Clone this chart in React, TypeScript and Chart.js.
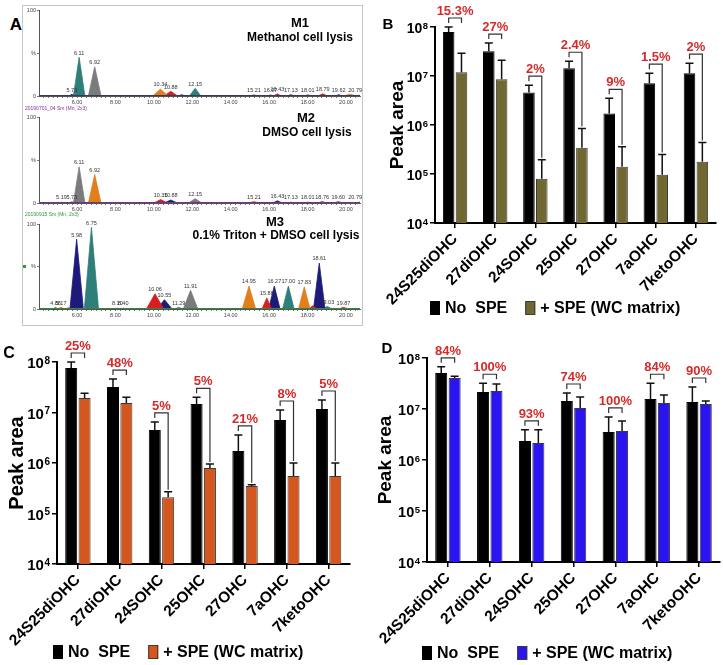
import React, { useEffect, useRef } from "react";
import { Chart, registerables } from "chart.js";

Chart.register(...registerables);

const FONT = "'Liberation Sans', Arial, Helvetica, sans-serif";

// ---------------- Bar panels (B, C, D) ----------------
const categories = ["24S25diOHC", "27diOHC", "24SOHC", "25OHC", "27OHC", "7aOHC", "7ketoOHC"];
const decadeTicks = [1e4, 1e5, 1e6, 1e7, 1e8];
const legendLabels = ["No  SPE", "+ SPE (WC matrix)"];

// Panel B (olive, WC matrix)
const bNoSpe = [7.9e7, 3.2e7, 4.6e6, 1.44e7, 1.72e6, 7.1e6, 1.14e7];
const bNoSpeSd = [2.1e7, 1.5e7, 1.9e6, 5.6e6, 1.78e6, 4.3e6, 6.9e6];
const bSpe = [1.19e7, 8.6e6, 8.0e4, 3.45e5, 1.41e5, 9.7e4, 1.78e5];
const bSpeSd = [1.71e7, 1.24e7, 1.16e5, 5.05e5, 2.19e5, 1.53e5, 2.62e5];
const bPct = ["15.3%", "27%", "2%", "2.4%", "9%", "1.5%", "2%"];
const bLongLeg = [false, false, true, true, true, true, true];

// Panel C (orange)
const cNoSpe = [7.6e7, 3.2e7, 4.5e6, 1.47e7, 1.73e6, 7.1e6, 1.17e7];
const cNoSpeSd = [2.4e7, 1.4e7, 2.0e6, 5.3e6, 1.87e6, 4.1e6, 6.0e6];
const cSpe = [1.94e7, 1.54e7, 2.1e5, 8.0e5, 3.5e5, 5.5e5, 5.5e5];
const cSpeSd = [4.6e6, 4.6e6, 6.0e4, 1.5e5, 2.0e4, 4.5e5, 4.5e5];
const cPct = ["25%", "48%", "5%", "5%", "21%", "8%", "5%"];
const cLongLeg = [false, false, true, true, true, true, true];

// Panel D (blue)
const dNoSpe = [5.1e7, 2.15e7, 2.36e6, 1.44e7, 3.54e6, 1.57e7, 1.37e7];
const dNoSpeSd = [1.6e7, 1.05e7, 1.54e6, 6.2e6, 3.46e6, 1.63e7, 1.33e7];
const dSpe = [4.05e7, 2.25e7, 2.15e6, 1.05e7, 3.7e6, 1.31e7, 1.25e7];
const dSpeSd = [3.5e6, 8.5e6, 1.75e6, 6.7e6, 2.1e6, 5.7e6, 1.9e6];
const dPct = ["84%", "100%", "93%", "74%", "100%", "84%", "90%"];
const dLongLeg = [false, false, false, false, false, false, false];

// ---------------- Chromatograms (A) ----------------
const NAVY = "#1d1a7a";
const TEAL = "#2e7f7a";
const GRAY = "#7b7b7b";
const ORANGE = "#e07f1c";
const RED = "#d71f1f";

const m1Rt = [5.73, 6.11, 6.92, 10.34, 10.88, 11.45, 12.15, 15.21, 16.07, 16.43, 17.13, 18.01, 18.79, 19.62, 20.2, 20.79];
const m1Height = [2, 45, 34, 8, 5.5, 1.5, 9, 1.5, 1.5, 2.5, 1.5, 1.5, 2.5, 1.5, 2, 1.5];
const m1HalfWidth = [0.15, 0.3, 0.33, 0.4, 0.35, 0.2, 0.3, 0.2, 0.2, 0.2, 0.2, 0.2, 0.25, 0.2, 0.35, 0.2];
const m1Color = [NAVY, TEAL, GRAY, ORANGE, RED, NAVY, TEAL, GRAY, ORANGE, RED, NAVY, TEAL, RED, NAVY, ORANGE, ORANGE];
const m1Label = ["5.73", "6.11", "6.92", "10.34", "10.88", "", "12.15", "15.21", "16.07", "16.43", "17.13", "18.01", "18.79", "19.62", "", "20.79"];

const m2Rt = [5.19, 5.73, 6.11, 6.92, 10.35, 10.88, 12.15, 15.21, 16.43, 17.13, 18.01, 18.76, 19.6, 20.79];
const m2Height = [1, 1.5, 42, 33, 4, 3.5, 5, 2, 2.5, 1, 1, 1.5, 1.5, 1.5];
const m2HalfWidth = [0.15, 0.15, 0.3, 0.33, 0.35, 0.35, 0.35, 0.25, 0.25, 0.2, 0.2, 0.25, 0.25, 0.25];
const m2Color = [GRAY, GRAY, GRAY, ORANGE, RED, NAVY, GRAY, ORANGE, NAVY, TEAL, TEAL, NAVY, NAVY, NAVY];
const m2Label = ["5.19", "5.73", "6.11", "6.92", "10.35", "10.88", "12.15", "15.21", "16.43", "17.13", "18.01", "18.76", "19.60", "20.79"];

const m3Rt = [4.88, 5.17, 5.55, 5.98, 6.75, 8.1, 8.4, 10.06, 10.55, 11.29, 11.91, 14.95, 15.88, 16.27, 17.0, 17.83, 18.28, 18.61, 19.03, 19.87];
const m3Height = [2, 2, 1.5, 82, 96, 1, 1, 18, 11, 2, 22, 27, 13, 27, 27, 26, 4, 54, 3, 2];
const m3HalfWidth = [0.12, 0.2, 0.15, 0.35, 0.37, 0.2, 0.2, 0.45, 0.4, 0.2, 0.38, 0.35, 0.25, 0.3, 0.3, 0.3, 0.2, 0.3, 0.25, 0.25];
const m3Color = [TEAL, ORANGE, RED, NAVY, TEAL, ORANGE, ORANGE, RED, NAVY, TEAL, GRAY, ORANGE, RED, NAVY, TEAL, ORANGE, RED, NAVY, TEAL, RED];
const m3Label = ["4.88", "5.17", "", "5.98", "6.75", "8.10", "8.40", "10.06", "10.55", "11.29", "11.91", "14.95", "15.88", "16.27", "17.00", "17.83", "", "18.61", "19.03", "19.87"];

const RT_MIN = 4.02;
const RT_MAX = 20.73;

type BarCfg = {
  left: number;
  top: number;
  width: number;
  height: number;
  areaLeft: number;
  areaTop: number;
  areaRight: number;
  areaBottom: number;
  legendX: number;
  legendY: number;
  noSpe: number[];
  noSpeSd: number[];
  spe: number[];
  speSd: number[];
  pct: string[];
  longLeg: boolean[];
  color: string;
  titleSize: number;
  titlePad: number;
  tickSize: number;
  expSize: number;
};

function BarPanel(cfg: BarCfg) {
  const ref = useRef<HTMLCanvasElement>(null);
  useEffect(() => {
    const canvas = ref.current;
    if (!canvas) return;
    const sds = [cfg.noSpeSd, cfg.speSd];
    const vals = [cfg.noSpe, cfg.spe];
    const annot = {
      id: "annot",
      afterDatasetsDraw(chart: any) {
        const ctx = chart.ctx;
        const ys = chart.scales.y;
        const area = chart.chartArea;
        ctx.save();
        // error bars
        const errPix: number[][] = [[], []];
        const xPix: number[][] = [[], []];
        for (let d = 0; d < 2; d++) {
          const meta = chart.getDatasetMeta(d);
          meta.data.forEach((el: any, i: number) => {
            const top = ys.getPixelForValue(vals[d][i] + sds[d][i]);
            errPix[d][i] = top;
            xPix[d][i] = el.x;
            ctx.strokeStyle = "#111";
            ctx.lineWidth = 1.5;
            ctx.beginPath();
            ctx.moveTo(el.x, el.y);
            ctx.lineTo(el.x, top);
            ctx.moveTo(el.x - 4, top);
            ctx.lineTo(el.x + 4, top);
            ctx.stroke();
          });
        }
        // brackets and percentages
        for (let i = 0; i < categories.length; i++) {
          const x1 = xPix[0][i];
          const x2 = xPix[1][i];
          const by = Math.min(errPix[0][i], errPix[1][i]) - 9;
          const rightEnd = cfg.longLeg[i] ? errPix[1][i] - 2 : by + 5;
          ctx.strokeStyle = "#333";
          ctx.lineWidth = 1.2;
          ctx.beginPath();
          ctx.moveTo(x1, by + 5);
          ctx.lineTo(x1, by);
          ctx.lineTo(x2, by);
          ctx.lineTo(x2, rightEnd);
          ctx.stroke();
          ctx.fillStyle = "#d62a2a";
          ctx.font = `bold 13px ${FONT}`;
          ctx.textAlign = "center";
          ctx.textBaseline = "alphabetic";
          ctx.fillText(cfg.pct[i], (x1 + x2) / 2, by - 3);
        }
        // y tick labels 10^n
        decadeTicks.forEach((v) => {
          const py = ys.getPixelForValue(v);
          const exp = String(Math.round(Math.log10(v)));
          ctx.fillStyle = "#000";
          ctx.textAlign = "right";
          ctx.textBaseline = "alphabetic";
          ctx.font = `bold ${cfg.expSize}px ${FONT}`;
          const wExp = ctx.measureText(exp).width;
          const rightX = area.left - 7;
          const tenBase = py + 0.36 * cfg.tickSize + 1;
          const expBase = tenBase - 0.716 * cfg.tickSize + 0.716 * cfg.expSize - 1;
          ctx.fillText(exp, rightX, expBase);
          ctx.font = `bold ${cfg.tickSize}px ${FONT}`;
          ctx.fillText("10", rightX - wExp - 0.5, tenBase);
        });
        // legend
        let lx = cfg.legendX;
        const ly = cfg.legendY;
        ctx.font = `bold 16px ${FONT}`;
        ctx.textAlign = "left";
        ctx.textBaseline = "middle";
        chart.data.datasets.forEach((ds: any) => {
          ctx.fillStyle = ds.backgroundColor;
          ctx.fillRect(lx, ly - 7, 10, 14);
          ctx.strokeStyle = ds.borderColor;
          ctx.lineWidth = 1;
          ctx.strokeRect(lx + 0.5, ly - 6.5, 9, 13);
          ctx.fillStyle = "#000";
          ctx.fillText(ds.label, lx + 15, ly + 1);
          lx += 15 + ctx.measureText(ds.label).width + 18;
        });
        ctx.restore();
      },
    };
    const chart = new Chart(canvas, {
      type: "bar",
      data: {
        labels: categories,
        datasets: [
          { label: legendLabels[0], data: cfg.noSpe, backgroundColor: "#000", borderColor: "#000", borderWidth: 1 },
          { label: legendLabels[1], data: cfg.spe, backgroundColor: cfg.color, borderColor: "#3a3a3a", borderWidth: 1 },
        ],
      },
      options: {
        responsive: false,
        animation: false,
        devicePixelRatio: 1,
        layout: { padding: { left: 0, top: cfg.areaTop, right: cfg.width - cfg.areaRight, bottom: 0 } },
        datasets: { bar: { categoryPercentage: 0.64, barPercentage: 0.9 } },
        plugins: {
          legend: { display: false },
          tooltip: { enabled: false },
        },
        scales: {
          x: {
            type: "category",
            afterFit: (s: any) => {
              s.height = cfg.height - cfg.areaBottom;
              s.paddingLeft = 0;
              s.paddingRight = 0;
            },
            ticks: {
              color: "#000",
              font: { family: FONT, size: 15.5, weight: "bold" },
              minRotation: 45,
              maxRotation: 45,
              autoSkip: false,
              padding: 2,
            },
            grid: { offset: false, drawOnChartArea: false, drawTicks: true, tickLength: 5, color: "#000", lineWidth: 1.5 },
            border: { display: true, color: "#000", width: 2 },
          },
          y: {
            type: "logarithmic",
            min: 1e4,
            max: 1e8,
            afterBuildTicks: (s: any) => {
              s.ticks = decadeTicks.map((v) => ({ value: v }));
            },
            afterFit: (s: any) => {
              s.width = cfg.areaLeft;
              s.paddingTop = 0;
              s.paddingBottom = 0;
            },
            ticks: { display: false },
            grid: { drawOnChartArea: false, drawTicks: true, tickLength: 5, color: "#000", lineWidth: 1.5 },
            border: { display: true, color: "#000", width: 2 },
            title: {
              display: true,
              text: "Peak area",
              color: "#000",
              font: { family: FONT, size: cfg.titleSize, weight: "bold" },
              padding: { top: cfg.titlePad, bottom: 0 },
            },
          },
        },
      } as any,
      plugins: [annot],
    });
    return () => chart.destroy();
  }, []);
  return (
    <canvas
      ref={ref}
      width={cfg.width}
      height={cfg.height}
      style={{ position: "absolute", left: cfg.left, top: cfg.top, width: cfg.width, height: cfg.height }}
    />
  );
}

type ChromCfg = {
  top: number;
  height: number;
  areaTop: number;
  areaBottom: number;
  rt: number[];
  h: number[];
  hw: number[];
  colors: string[];
  labels: string[];
  baseColor: string;
};

const xTickValues: number[] = [];
for (let t = 4.25; t <= 20.5 + 1e-9; t += 0.25) xTickValues.push(Math.round(t * 100) / 100);

function Chromatogram(cfg: ChromCfg) {
  const ref = useRef<HTMLCanvasElement>(null);
  const W = 339;
  useEffect(() => {
    const canvas = ref.current;
    if (!canvas) return;
    const peaks = cfg.rt.map((rt, i) => ({
      data: [
        { x: rt - cfg.hw[i], y: 0 },
        { x: rt, y: cfg.h[i] },
        { x: rt + cfg.hw[i], y: 0 },
      ],
      borderColor: cfg.colors[i],
      backgroundColor: cfg.colors[i],
      borderWidth: 0.8,
      fill: "origin",
      pointRadius: 0,
      tension: 0,
    }));
    const baseline = {
      data: [
        { x: RT_MIN, y: 0.4 },
        { x: RT_MAX, y: 0.4 },
      ],
      borderColor: cfg.baseColor,
      borderWidth: 1.2,
      pointRadius: 0,
      fill: false,
    };
    const xH = 11;
    const labelPlugin = {
      id: "peakLabels",
      afterDatasetsDraw(chart: any) {
        const ctx = chart.ctx;
        const xs = chart.scales.x;
        const ys = chart.scales.y;
        const area = chart.chartArea;
        ctx.save();
        ctx.font = `5.5px ${FONT}`;
        ctx.fillStyle = "#333";
        ctx.textAlign = "center";
        ctx.textBaseline = "bottom";
        cfg.rt.forEach((rt, i) => {
          const txt = cfg.labels[i];
          if (!txt) return;
          const w = ctx.measureText(txt).width;
          let px = xs.getPixelForValue(rt);
          px = Math.max(area.left + w / 2, Math.min(area.right - w / 2 + 2, px));
          const py = ys.getPixelForValue(cfg.h[i]) - 1.5;
          ctx.fillText(txt, px, py);
        });
        ctx.restore();
      },
    };
    const chart = new Chart(canvas, {
      type: "line",
      data: { datasets: [baseline, ...peaks] as any },
      options: {
        responsive: false,
        animation: false,
        devicePixelRatio: 1,
        layout: { padding: { left: 0, top: cfg.areaTop, right: 2, bottom: cfg.height - cfg.areaBottom - xH } },
        plugins: { legend: { display: false }, tooltip: { enabled: false } },
        scales: {
          x: {
            type: "linear",
            min: RT_MIN,
            max: RT_MAX,
            afterBuildTicks: (s: any) => {
              s.ticks = xTickValues.map((v) => ({ value: v }));
            },
            afterFit: (s: any) => {
              s.height = xH;
              s.paddingLeft = 0;
              s.paddingRight = 0;
            },
            ticks: {
              autoSkip: false,
              maxRotation: 0,
              minRotation: 0,
              padding: 1,
              color: "#444",
              font: { family: FONT, size: 5.5 },
              callback: (v: any) => {
                const n = Number(v);
                return n >= 6 && Math.abs(n / 2 - Math.round(n / 2)) < 1e-6 ? n.toFixed(2) : "";
              },
            },
            grid: { drawOnChartArea: false, drawTicks: true, tickLength: 2, color: "#555", lineWidth: 0.8 },
            border: { display: true, color: "#555", width: 1 },
          },
          y: {
            type: "linear",
            min: 0,
            max: 100,
            afterBuildTicks: (s: any) => {
              s.ticks = [0, 50, 100].map((v) => ({ value: v }));
            },
            afterFit: (s: any) => {
              s.width = 16;
              s.paddingTop = 0;
              s.paddingBottom = 0;
            },
            ticks: {
              padding: 1,
              color: "#444",
              font: { family: FONT, size: 5.5 },
              callback: (v: any) => (Number(v) === 50 ? "%" : String(v)),
            },
            grid: { drawOnChartArea: false, drawTicks: true, tickLength: 2, color: "#555", lineWidth: 0.8 },
            border: { display: true, color: "#555", width: 1 },
          },
        },
      } as any,
      plugins: [labelPlugin],
    });
    return () => chart.destroy();
  }, []);
  return (
    <canvas
      ref={ref}
      width={W}
      height={cfg.height}
      style={{ position: "absolute", left: 23, top: cfg.top, width: W, height: cfg.height }}
    />
  );
}

function Txt(props: { x: number; y: number; size: number; color?: string; weight?: string; align?: "center" | "left"; children: any }) {
  const { x, y, size, color = "#000", weight = "bold", align = "center", children } = props;
  return (
    <div
      style={{
        position: "absolute",
        left: x,
        top: y,
        transform: align === "center" ? "translate(-50%, -50%)" : "translate(0, -50%)",
        fontFamily: FONT,
        fontSize: size,
        fontWeight: weight as any,
        color,
        whiteSpace: "pre",
        lineHeight: 1,
      }}
    >
      {children}
    </div>
  );
}

export default function App() {
  return (
    <div style={{ position: "absolute", left: 0, top: 0, width: 723, height: 665, overflow: "hidden", background: "#fff" }}>
      {/* Panel A */}
      <div style={{ position: "absolute", left: 22, top: 5, width: 339, height: 319, border: "1px solid #c6c6c6" }} />
      <Chromatogram top={6} height={104} areaTop={4} areaBottom={90} rt={m1Rt} h={m1Height} hw={m1HalfWidth} colors={m1Color} labels={m1Label} baseColor="#3a3a5a" />
      <Chromatogram top={110} height={107} areaTop={7} areaBottom={93} rt={m2Rt} h={m2Height} hw={m2HalfWidth} colors={m2Color} labels={m2Label} baseColor="#7b2d8e" />
      <Chromatogram top={217} height={106} areaTop={7} areaBottom={92} rt={m3Rt} h={m3Height} hw={m3HalfWidth} colors={m3Color} labels={m3Label} baseColor="#2e8b3a" />
      <Txt x={16} y={24} size={17}>A</Txt>
      <Txt x={300} y={22} size={13}>M1</Txt>
      <Txt x={300} y={37} size={12}>Methanol cell lysis</Txt>
      <Txt x={306} y={117} size={13}>M2</Txt>
      <Txt x={307} y={132} size={12}>DMSO cell lysis</Txt>
      <Txt x={275} y={221} size={13}>M3</Txt>
      <Txt x={276} y={235} size={12}>0.1% Triton + DMSO cell lysis</Txt>
      <Txt x={25} y={108} size={5} weight="normal" color="#8a2aa0" align="left">20190701_04 Sm (Mn, 2x3)</Txt>
      <Txt x={25} y={214} size={5} weight="normal" color="#2e9a3a" align="left">20190915 Sm (Mn, 2x3)</Txt>
      <div style={{ position: "absolute", left: 23, top: 265, width: 3, height: 3, background: "#2e9a3a" }} />

      {/* Panel B */}
      <BarPanel
        left={376} top={0} width={347} height={330}
        areaLeft={59} areaTop={27} areaRight={340} areaBottom={223}
        legendX={54} legendY={308}
        noSpe={bNoSpe} noSpeSd={bNoSpeSd} spe={bSpe} speSd={bSpeSd}
        pct={bPct} longLeg={bLongLeg} color="#716831"
        titleSize={19} titlePad={10.5} tickSize={14} expSize={9.5}
      />
      <Txt x={388} y={23} size={15}>B</Txt>

      {/* Panel C */}
      <BarPanel
        left={0} top={330} width={352} height={335}
        areaLeft={57} areaTop={32} areaRight={349.5} areaBottom={234}
        legendX={53} legendY={322}
        noSpe={cNoSpe} noSpeSd={cNoSpeSd} spe={cSpe} speSd={cSpeSd}
        pct={cPct} longLeg={cLongLeg} color="#d4571f"
        titleSize={20} titlePad={5} tickSize={15} expSize={10}
      />
      <Txt x={9} y={353} size={16}>C</Txt>

      {/* Panel D */}
      <BarPanel
        left={362} top={330} width={361} height={335}
        areaLeft={65} areaTop={28} areaRight={358} areaBottom={232}
        legendX={60} legendY={323}
        noSpe={dNoSpe} noSpeSd={dNoSpeSd} spe={dSpe} speSd={dSpeSd}
        pct={dPct} longLeg={dLongLeg} color="#2a14f2"
        titleSize={19} titlePad={12} tickSize={14.5} expSize={9.5}
      />
      <Txt x={387} y={347} size={15}>D</Txt>
    </div>
  );
}
